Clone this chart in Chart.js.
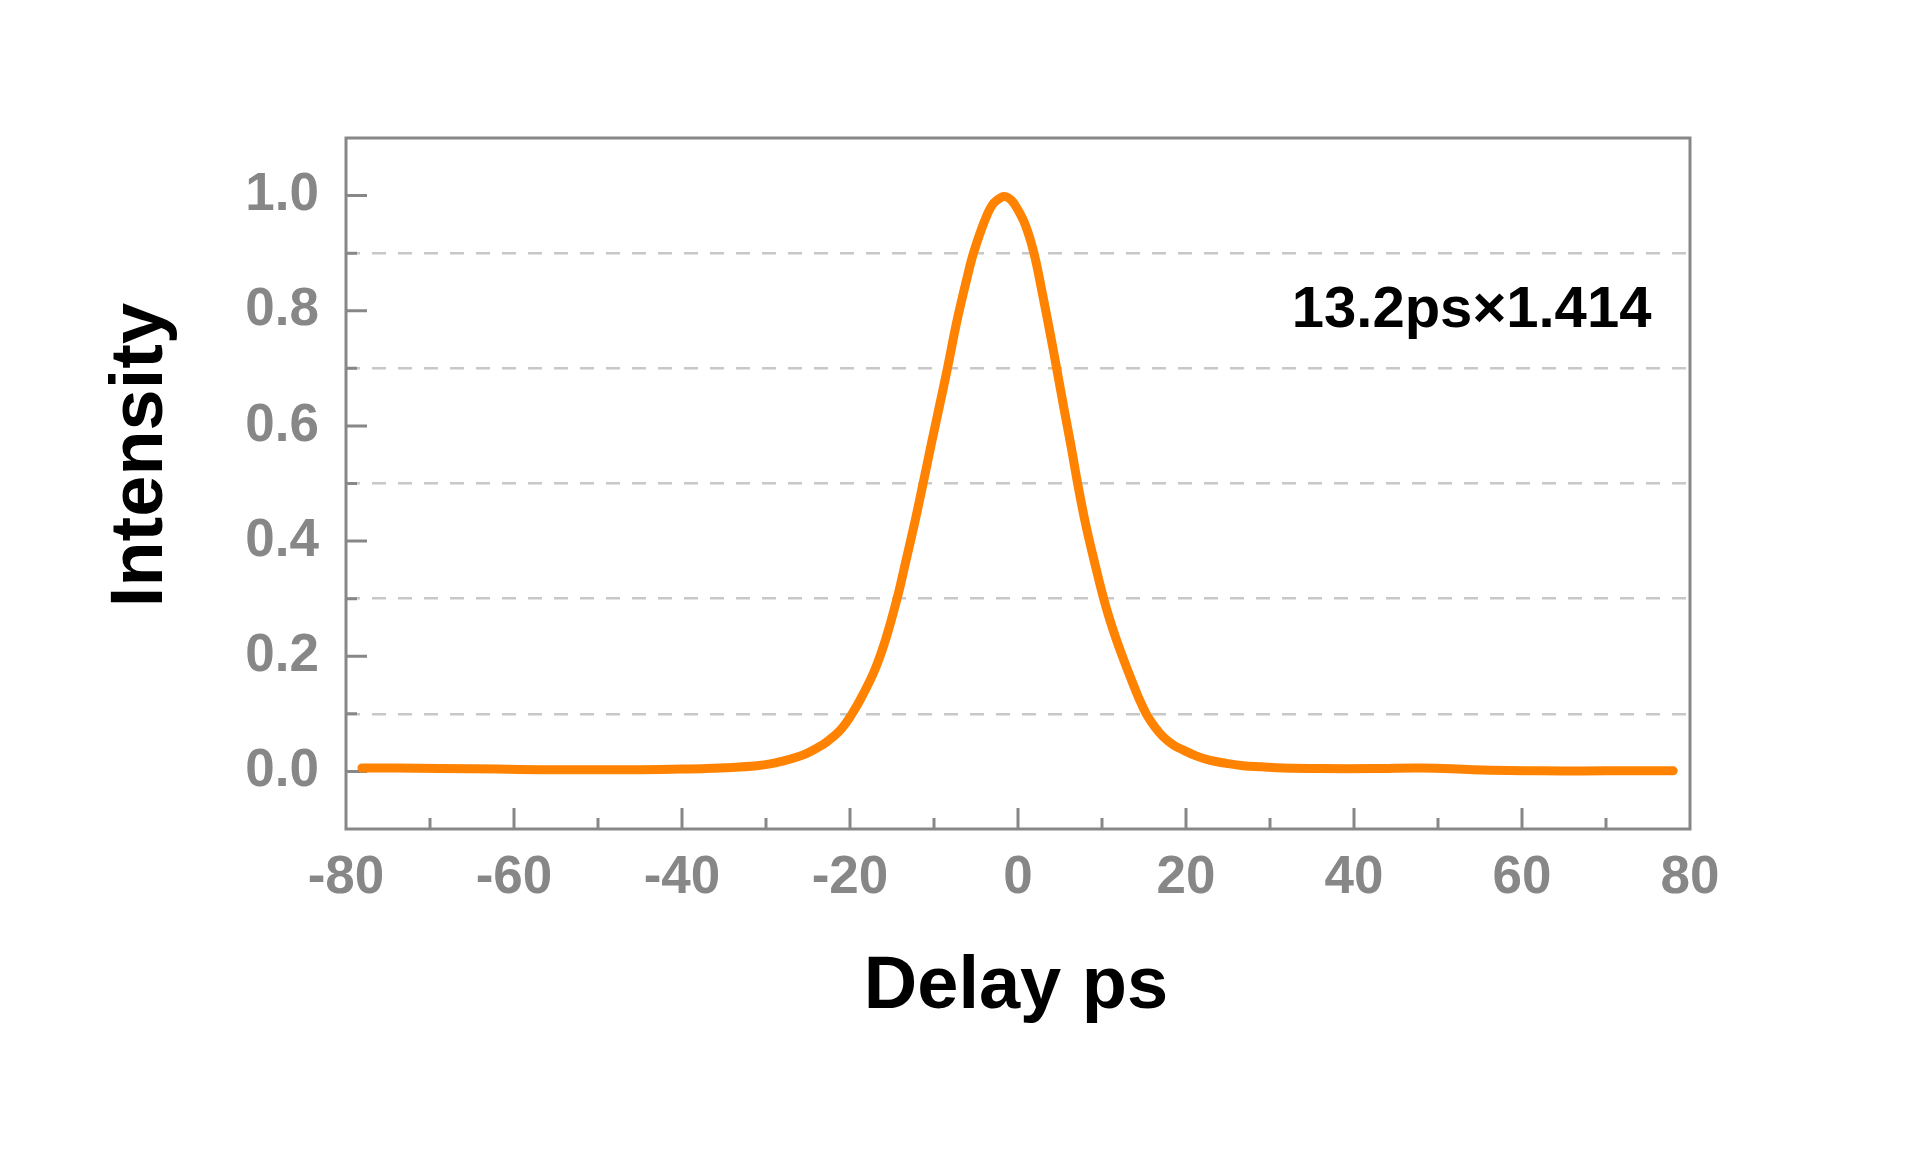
<!DOCTYPE html>
<html>
<head>
<meta charset="utf-8">
<script src="https://cdn.jsdelivr.net/npm/chart.js@4.4.1/dist/chart.umd.min.js"></script>
<style>
  html, body { margin: 0; padding: 0; background: #ffffff; }
  #wrap { width: 1920px; height: 1152px; }
</style>
</head>
<body>
<div id="wrap"><canvas id="c" width="1920" height="1152"></canvas></div>
<script>
// ---- data ----
const delay = [
  -78.1, -74, -68.8, -62, -56.9, -50, -45, -40, -37.1, -34, -31.1, -29.5, -28, -26.3, -25.2, -24.0,
  -22.8, -21.2, -19.8, -18.4, -17.0, -15.7, -14.4, -13.4, -12.3, -11.3, -10.3, -9.3, -8.4,
  -7.3, -6.1, -5.3, -4.0, -3.0, -2.0, -1.4, -0.8, -0.2, 0.9, 1.9, 2.9, 3.9, 4.6,
  5.5, 6.4, 7.1, 8.0, 9.0, 10.2, 11.0, 11.8, 12.6, 13.4, 14.3, 15.3, 16.3, 17.3, 18.5, 19.7,
  21.2, 22.9, 24.8, 26.8, 29.0, 31.6, 36, 42.3, 48.2, 54.2, 62.1, 70.1, 78.0
];
const intensity = [
  0.006, 0.006, 0.005, 0.004, 0.003, 0.003, 0.003, 0.004, 0.005, 0.007, 0.010, 0.013, 0.018, 0.025, 0.031, 0.040,
  0.051, 0.071, 0.099, 0.135, 0.178, 0.232, 0.300, 0.362, 0.432, 0.500, 0.570, 0.638, 0.700,
  0.780, 0.855, 0.900, 0.955, 0.985, 0.997, 0.998, 0.992, 0.980, 0.948, 0.900, 0.830, 0.755, 0.700,
  0.628, 0.558, 0.500, 0.433, 0.370, 0.300, 0.260, 0.225, 0.193, 0.163, 0.130, 0.099, 0.077, 0.060, 0.046, 0.037,
  0.027, 0.019, 0.014, 0.010, 0.008, 0.006, 0.005, 0.005, 0.006, 0.003, 0.001, 0.001, 0.001
];
const xRange = [-80, 80];
const yRange = [-0.1, 1.1];
const xTitle = 'Delay ps';
const yTitle = 'Intensity';
const noteText = '13.2ps×1.414';
const notePos = [54, 0.8];

const GRAY = '#878787';
const FONT = '"Liberation Sans", Arial, sans-serif';

const frameAndTicks = {
  id: 'frameAndTicks',
  beforeDatasetsDraw(chart) {
    const ctx = chart.ctx, a = chart.chartArea;
    const xs = chart.scales.x, ys = chart.scales.y;
    ctx.save();
    ctx.strokeStyle = GRAY;
    ctx.lineWidth = 3;
    ctx.lineCap = 'butt';
    ctx.beginPath();
    ys.ticks.forEach(t => {
      const k = Math.round(t.value * 10);
      if (k <= -1 || k >= 11) return;
      const p = ys.getPixelForValue(t.value);
      const len = (k % 2 === 0) ? 21 : 11;
      ctx.moveTo(a.left, p); ctx.lineTo(a.left + len, p);
    });
    xs.ticks.forEach(t => {
      const k = Math.round(t.value);
      if (k <= -80 || k >= 80) return;
      const p = xs.getPixelForValue(t.value);
      const len = (k % 20 === 0) ? 21 : 11;
      ctx.moveTo(p, a.bottom); ctx.lineTo(p, a.bottom - len);
    });
    ctx.stroke();
    ctx.strokeRect(a.left, a.top, a.right - a.left, a.bottom - a.top);
    ctx.restore();
  },
  afterDraw(chart) {
    const ctx = chart.ctx, a = chart.chartArea;
    const xs = chart.scales.x, ys = chart.scales.y;
    ctx.save();
    ctx.fillStyle = '#000000';
    // x title
    ctx.font = 'bold 74px ' + FONT;
    ctx.textAlign = 'center';
    ctx.textBaseline = 'alphabetic';
    ctx.fillText(xTitle, (a.left + a.right) / 2 - 2, 1008);
    // y title
    ctx.save();
    ctx.translate(162, 455);
    ctx.rotate(-Math.PI / 2);
    ctx.fillText(yTitle, 0, 0);
    ctx.restore();
    // annotation
    ctx.font = 'bold 58px ' + FONT;
    ctx.textAlign = 'center';
    ctx.textBaseline = 'middle';
    ctx.fillText(noteText, xs.getPixelForValue(notePos[0]), ys.getPixelForValue(notePos[1]));
    ctx.restore();
  }
};

new Chart(document.getElementById('c'), {
  type: 'line',
  data: {
    datasets: [{
      data: delay.map((d, i) => ({ x: d, y: intensity[i] })),
      borderColor: '#ff8200',
      borderWidth: 9,
      pointRadius: 0,
      fill: false,
      tension: 0.4,
      borderCapStyle: 'round',
      borderJoinStyle: 'round'
    }]
  },
  options: {
    responsive: false,
    animation: false,
    devicePixelRatio: 1,
    layout: { padding: { top: 138, right: 230, left: 0, bottom: 0 } },
    plugins: { legend: { display: false }, tooltip: { enabled: false }, title: { display: false } },
    scales: {
      x: {
        type: 'linear',
        min: xRange[0], max: xRange[1],
        afterFit(s) { s.height = 323; },
        grid: { display: false, drawTicks: false },
        border: { display: false },
        ticks: {
          stepSize: 10, autoSkip: false, maxRotation: 0, minRotation: 0,
          padding: 18,
          color: GRAY,
          font: { family: FONT, size: 53, weight: 'bold' },
          callback(v) { const k = Math.round(v); return k % 20 === 0 ? String(k) : ''; }
        }
      },
      y: {
        type: 'linear',
        min: yRange[0], max: yRange[1],
        afterFit(s) { s.width = 346; },
        grid: {
          drawTicks: false,
          lineWidth: 2.5,
          color(c) {
            const k = Math.round(c.tick.value * 10);
            return (k > 0 && k < 11 && k % 2 !== 0) ? '#c8c8c8' : 'rgba(0,0,0,0)';
          }
        },
        border: { display: false, dash: [14, 12] },
        ticks: {
          stepSize: 0.1, autoSkip: false,
          padding: 27,
          color: GRAY,
          font: { family: FONT, size: 53, weight: 'bold' },
          callback(v) { const k = Math.round(v * 10); return k % 2 === 0 ? (k / 10).toFixed(1) : ''; }
        }
      }
    }
  },
  plugins: [frameAndTicks]
});
</script>
</body>
</html>
